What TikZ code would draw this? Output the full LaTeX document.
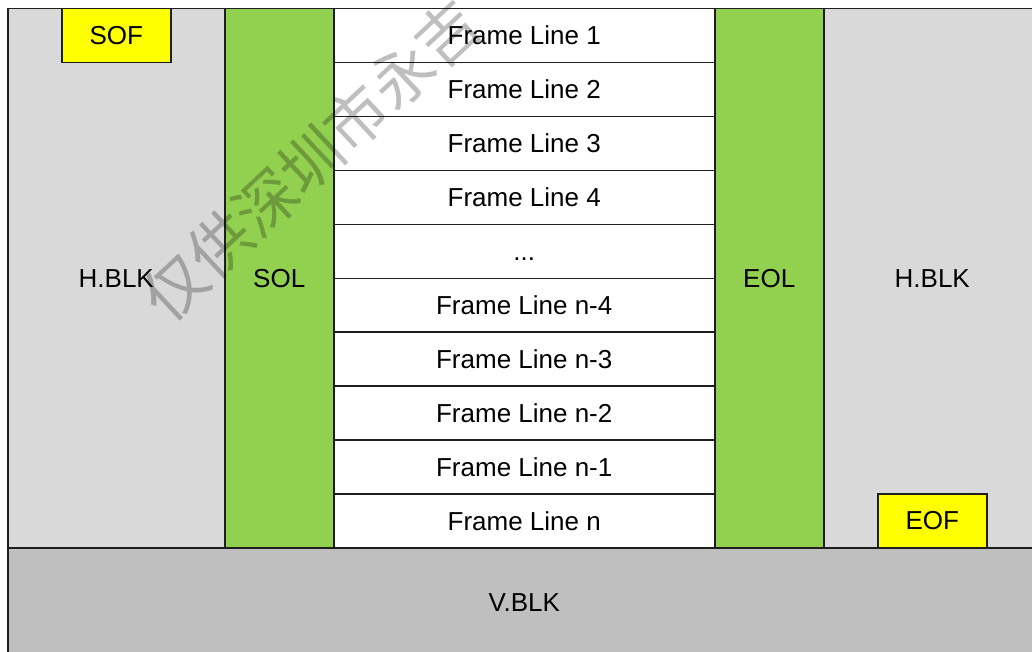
\documentclass[tikz,border=0pt]{standalone}
\usepackage{fontspec}
\setmainfont{Liberation Sans}
\newfontfamily\cjk{Noto Sans CJK SC}
\definecolor{hblk}{HTML}{D9D9D9}
\definecolor{vblk}{HTML}{BFBFBF}
\definecolor{mkgreen}{HTML}{92D050}
\definecolor{mkyellow}{HTML}{FFFF00}
\definecolor{edge}{HTML}{1E1E1E}
\tikzset{
  blk/.style={draw=edge, line width=1.5pt, inner sep=0pt, anchor=north west,
              font=\fontsize{26}{30}\selectfont},
  hbox/.style={blk, fill=hblk, minimum width=217pt, minimum height=539pt},
  gbox/.style={blk, fill=mkgreen, minimum width=109pt, minimum height=539pt},
  fline/.style={blk, fill=white, minimum width=381pt, minimum height=53.9pt},
  ybox/.style={blk, fill=mkyellow, minimum width=109pt, minimum height=54pt},
  vbox/.style={blk, fill=vblk, minimum width=1033pt, minimum height=110pt},
  wmark/.style={rotate=43, opacity=0.25, text=black, inner sep=0pt,
              font=\cjk\fontsize{62}{62}\selectfont}
}
\begin{document}
\begin{tikzpicture}[x=1pt,y=-1pt]
\useasboundingbox (0,0) rectangle (1032,652);
\clip (0,0) rectangle (1032,652);
\fill[white] (0,0) rectangle (1032,652);
% horizontal blanking
\node[hbox] (hl) at (7,8) {H.BLK};
\node[hbox] (hr) at (823,8) {H.BLK};
% SOL / EOL
\node[gbox] (sol) at (224,8) {SOL};
\node[gbox] (eol) at (714,8) {EOL};
% frame lines
\node[fline] (f1) at (333,8) {Frame Line 1};
\node[fline] (f2) at (333,61.9) {Frame Line 2};
\node[fline] (f3) at (333,115.8) {Frame Line 3};
\node[fline] (f4) at (333,169.7) {Frame Line 4};
\node[fline] (f5) at (333,223.6) {\vphantom{F}...};
\node[fline] (f6) at (333,277.5) {Frame Line n-4};
\node[fline] (f7) at (333,331.4) {Frame Line n-3};
\node[fline] (f8) at (333,385.3) {Frame Line n-2};
\node[fline] (f9) at (333,439.2) {Frame Line n-1};
\node[fline] (f10) at (333,493.1) {Frame Line n};
% SOF / EOF
\node[ybox] (sof) at (61,8) {SOF};
\node[ybox] (eof) at (877,493) {EOF};
% vertical blanking
\node[vbox] (vb) at (7,547) {V.BLK};
% watermark
\node[wmark] (wm) at (311,160) {仅供深圳市永吉};
\end{tikzpicture}
\end{document}
